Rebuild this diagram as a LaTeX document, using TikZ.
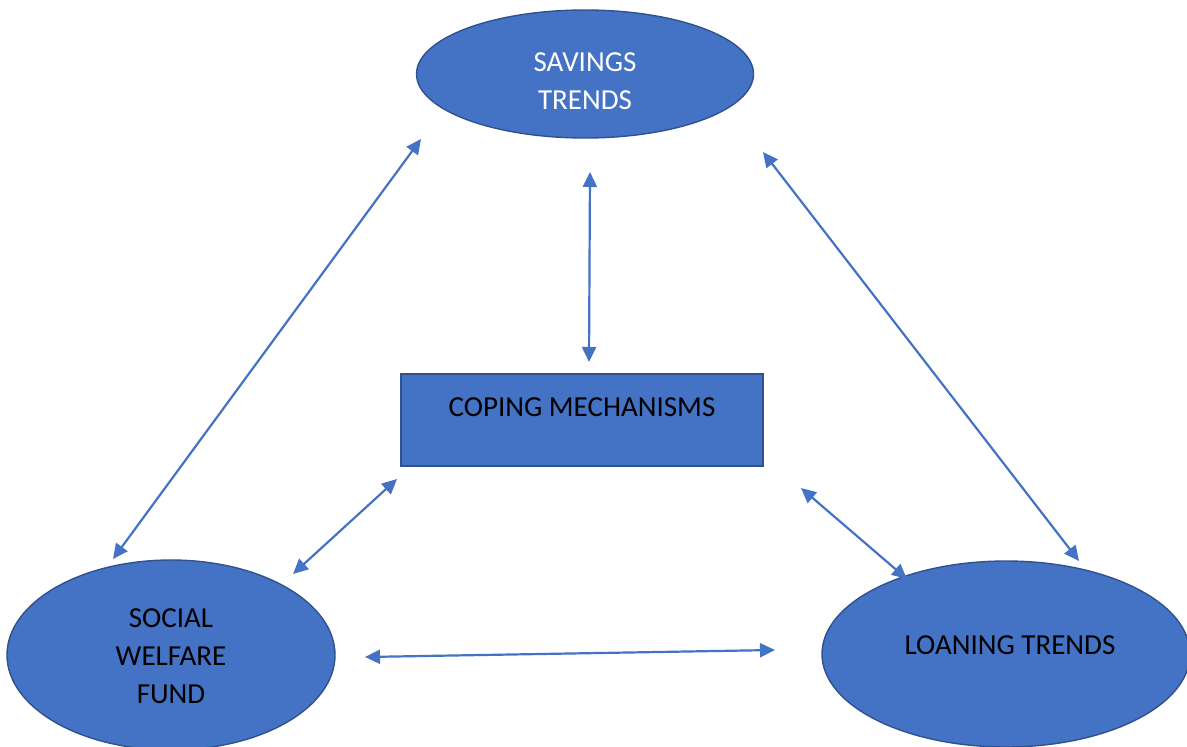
\documentclass[tikz,border=0pt]{standalone}
\usepackage{fontspec}
\setmainfont{Carlito}
\usetikzlibrary{shapes.geometric,arrows.meta}
\definecolor{fillblue}{HTML}{4472C4}
\definecolor{edgeblue}{HTML}{2F528F}
\tikzset{
  oval/.style={ellipse, draw=edgeblue, fill=fillblue, line width=1.4pt, inner sep=0pt},
  cbox/.style={rectangle, draw=edgeblue, fill=fillblue, line width=1.4pt, inner sep=0pt},
  txt/.style={font=\fontsize{29}{38}\selectfont, align=center},
  link/.style={draw=fillblue, line width=2.2pt,
    {Triangle[length=15pt,width=14pt]}-{Triangle[length=15pt,width=14pt]}}
}
\begin{document}
\begin{tikzpicture}[x=1pt,y=-1pt]
\useasboundingbox (0,0) rectangle (1187,747);
% nodes
\node[oval, minimum width=337pt, minimum height=128pt,
  label={[txt, text=white, yshift=-7pt]center:SAVINGS\\TRENDS}] (sav) at (585,74) {};
\node[cbox, minimum width=362pt, minimum height=92pt,
  label={[txt, text=black, yshift=13pt]center:COPING MECHANISMS}] (cop) at (582,420) {};
\node[oval, minimum width=328pt, minimum height=190pt,
  label={[txt, text=black, yshift=-1pt]center:SOCIAL\\WELFARE\\FUND}] (soc) at (171,655) {};
\node[oval, minimum width=368pt, minimum height=186pt,
  label={[txt, text=black, xshift=4pt, yshift=9pt]center:LOANING TRENDS}] (loa) at (1006,654) {};
% connector end points
\coordinate (s1) at (421,139);  \coordinate (w1) at (113,559);
\coordinate (s2) at (590,172);  \coordinate (c2) at (589,362);
\coordinate (s3) at (763,152);  \coordinate (l3) at (1079,561);
\coordinate (c4) at (397,479);  \coordinate (w4) at (293,574);
\coordinate (c5) at (801,488);  \coordinate (l5) at (907,579);
\coordinate (w6) at (365,657);  \coordinate (l6) at (775,650);
% connectors
\draw[link] (s1) -- (w1);
\draw[link] (s2) -- (c2);
\draw[link] (s3) -- (l3);
\draw[link] (c4) -- (w4);
\draw[link] (c5) -- (l5);
\draw[link] (w6) -- (l6);
\end{tikzpicture}
\end{document}
